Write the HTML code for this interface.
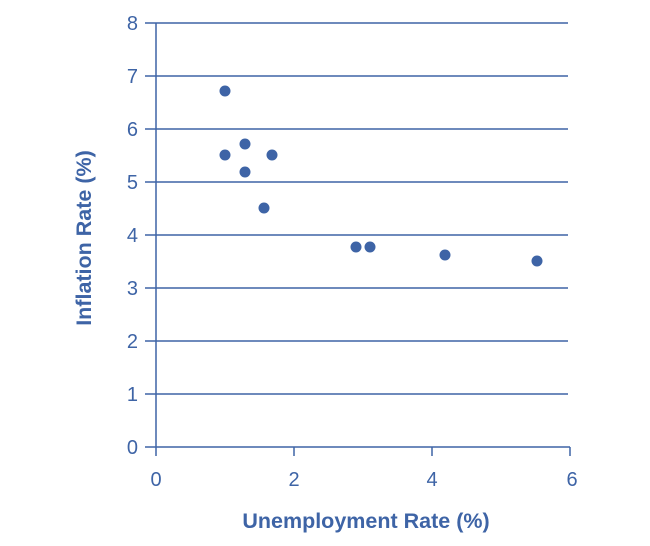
<!DOCTYPE html>
<html><head><style>body{margin:0;background:#fff}svg{display:block}</style></head><body>
<svg width="650" height="546" xmlns="http://www.w3.org/2000/svg" font-family="Liberation Sans, sans-serif">
<g stroke="#3e64a6" stroke-width="1.5">
<line x1="145" y1="23" x2="568" y2="23"/>
<line x1="145" y1="76" x2="568" y2="76"/>
<line x1="145" y1="129" x2="568" y2="129"/>
<line x1="145" y1="182" x2="568" y2="182"/>
<line x1="145" y1="235" x2="568" y2="235"/>
<line x1="145" y1="288" x2="568" y2="288"/>
<line x1="145" y1="341" x2="568" y2="341"/>
<line x1="145" y1="394" x2="568" y2="394"/>
<line x1="145" y1="447" x2="570" y2="447"/>
<line x1="156" y1="23" x2="156" y2="456"/>
<line x1="294" y1="447" x2="294" y2="456"/>
<line x1="432" y1="447" x2="432" y2="456"/>
<line x1="570" y1="447" x2="570" y2="456"/>
</g>
<g fill="#3e64a6" font-size="20" text-anchor="end">
<text x="138" y="30">8</text><text x="138" y="83">7</text><text x="138" y="136">6</text><text x="138" y="189">5</text><text x="138" y="242">4</text><text x="138" y="295">3</text><text x="138" y="348">2</text><text x="138" y="401">1</text><text x="138" y="454">0</text>
</g>
<g fill="#3e64a6" font-size="20" text-anchor="middle">
<text x="156" y="486">0</text><text x="294" y="486">2</text><text x="432" y="486">4</text><text x="572" y="486">6</text>
<text x="366" y="528" font-weight="bold" font-size="21.5">Unemployment Rate (%)</text>
<text transform="translate(91,238) rotate(-90)" font-weight="bold" font-size="21.5">Inflation Rate (%)</text>
</g>
<g fill="#3e64a6">
<circle cx="225" cy="91" r="5.5"/><circle cx="225" cy="155" r="5.5"/><circle cx="245" cy="144" r="5.5"/><circle cx="245" cy="172" r="5.5"/><circle cx="272" cy="155" r="5.5"/><circle cx="264" cy="208" r="5.5"/><circle cx="356" cy="247" r="5.5"/><circle cx="370" cy="247" r="5.5"/><circle cx="445" cy="255" r="5.5"/><circle cx="537" cy="261" r="5.5"/>
</g>
</svg>
</body></html>
